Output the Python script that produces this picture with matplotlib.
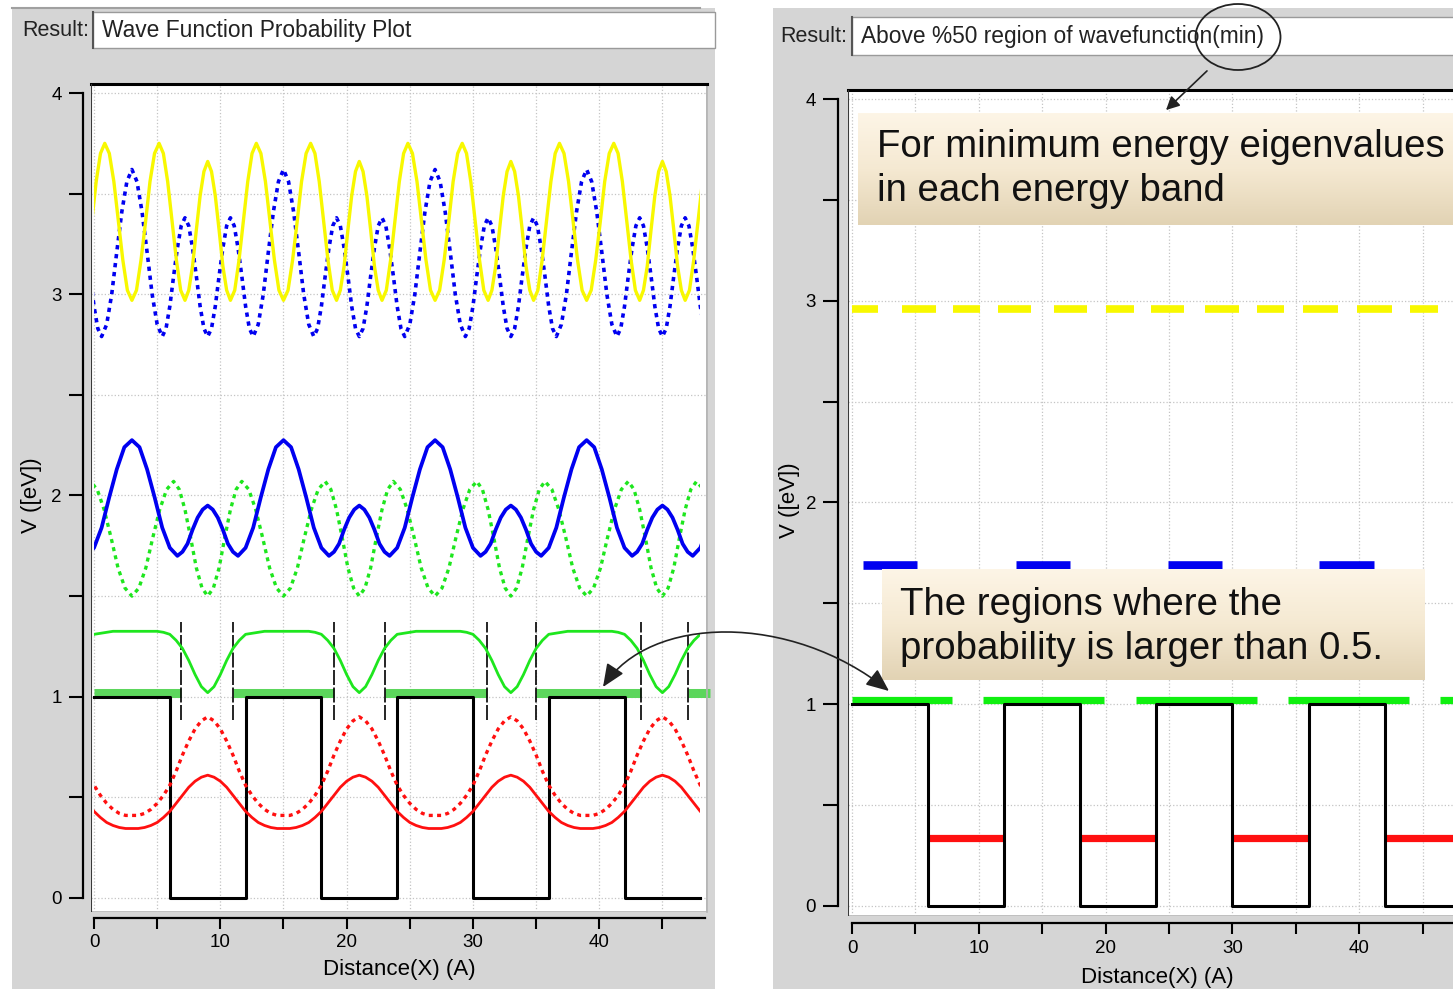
import numpy as np
import matplotlib.pyplot as plt
from matplotlib.colors import LinearSegmentedColormap
from matplotlib.patches import Rectangle, Ellipse, FancyArrowPatch
from matplotlib.path import Path
from matplotlib.ticker import MultipleLocator

plt.rcParams["font.family"] = ["Liberation Sans", "DejaVu Sans"]

# ------------------------------------------------------------
# data: 4 cells of a Kronig-Penney lattice, cell length 12 A
# ------------------------------------------------------------
CELL = 12.0
N_CELLS = 4
X_END = 48.0

POT_X = [0, 6, 12, 18, 24, 30, 36, 42, 48]
POT_V = [1, 0, 1, 0, 1, 0, 1, 0, 0]

# probability curves, one unit cell each (x in A, value plotted in eV)
RED_X = np.arange(0, 12, 0.5)
RED_SOLID = [0.43, 0.40, 0.375, 0.36, 0.35, 0.345, 0.345, 0.345, 0.35, 0.36, 0.375, 0.40,
             0.43, 0.47, 0.51, 0.55, 0.58, 0.60, 0.61, 0.60, 0.58, 0.55, 0.51, 0.47]
RED_DOT = [0.56, 0.51, 0.47, 0.44, 0.42, 0.41, 0.41, 0.41, 0.42, 0.44, 0.47, 0.51,
           0.56, 0.63, 0.71, 0.78, 0.84, 0.88, 0.90, 0.88, 0.84, 0.78, 0.71, 0.63]
GREEN_SOLID = [1.31, 1.315, 1.32, 1.325, 1.325, 1.325, 1.325, 1.325, 1.325, 1.325, 1.325, 1.32,
               1.31, 1.28, 1.24, 1.18, 1.11, 1.05, 1.02, 1.05, 1.11, 1.18, 1.24, 1.28]

GREEN_DOT_X = [-0.3, 0.25, 0.8, 1.35, 1.9, 2.45, 3.0, 3.55, 4.1, 4.65, 5.2, 5.75,
               6.3, 6.75, 7.2, 7.65, 8.1, 8.55, 9.0, 9.45, 9.9, 10.35, 10.8, 11.25]
GREEN_DOT = [2.07, 2.03, 1.93, 1.79, 1.64, 1.54, 1.50, 1.54, 1.64, 1.79, 1.93, 2.03,
             2.07, 2.03, 1.93, 1.79, 1.64, 1.54, 1.50, 1.54, 1.64, 1.79, 1.93, 2.03]

BLUE_SOLID_X = [-0.6, 0.0, 0.6, 1.2, 1.8, 2.4, 3.0, 3.6, 4.2, 4.8, 5.4, 6.0,
                6.6, 7.0, 7.4, 7.8, 8.2, 8.6, 9.0, 9.4, 9.8, 10.2, 10.6, 11.0]
BLUE_SOLID = [1.70, 1.74, 1.84, 1.99, 2.13, 2.24, 2.275, 2.24, 2.13, 1.99, 1.84, 1.74,
              1.70, 1.72, 1.76, 1.83, 1.89, 1.93, 1.95, 1.93, 1.89, 1.83, 1.76, 1.72]

BLUE_DOT_X = [0.6, 1.0, 1.4, 1.8, 2.2, 2.6, 3.0, 3.4, 3.8, 4.2, 4.6, 5.0,
              5.4, 5.7, 6.0, 6.3, 6.6, 6.9, 7.2, 7.5, 7.8, 8.1, 8.4, 8.7,
              9.0, 9.3, 9.6, 9.9, 10.2, 10.5, 10.8, 11.1, 11.4, 11.7, 12.0, 12.3]
BLUE_DOT = [2.79, 2.85, 3.00, 3.21, 3.41, 3.56, 3.62, 3.56, 3.41, 3.21, 3.00, 2.85,
            2.79, 2.83, 2.94, 3.09, 3.23, 3.34, 3.38, 3.34, 3.23, 3.09, 2.94, 2.83,
            2.79, 2.83, 2.94, 3.09, 3.23, 3.34, 3.38, 3.34, 3.23, 3.09, 2.94, 2.83]

YELLOW_X = [-1.2, -0.86, -0.52, -0.18, 0.17, 0.51, 0.85, 1.21, 1.57, 1.93, 2.28, 2.64,
            3.0, 3.36, 3.72, 4.08, 4.43, 4.79, 5.15, 5.49, 5.83, 6.18, 6.52, 6.86,
            7.2, 7.5, 7.8, 8.1, 8.4, 8.7, 9.0, 9.3, 9.6, 9.9, 10.2, 10.5]
YELLOW = [2.97, 3.02, 3.17, 3.36, 3.56, 3.70, 3.75, 3.70, 3.56, 3.36, 3.17, 3.02,
          2.97, 3.02, 3.17, 3.36, 3.56, 3.70, 3.75, 3.70, 3.56, 3.36, 3.17, 3.02,
          2.97, 3.02, 3.14, 3.32, 3.49, 3.61, 3.66, 3.61, 3.49, 3.32, 3.14, 3.02]

# half-maximum cut positions of the green state and its >0.5 regions
CUT_X = [6.9, 11.0, 19.0, 23.0, 31.1, 35.0, 43.3, 47.0]
CUT_LO, CUT_HI = 0.885, 1.37
HALF_GREEN_START = [0.0, 11.0, 23.0, 35.0, 47.0]
HALF_GREEN_END = [6.9, 19.0, 31.1, 43.3, 48.8]
HALF_GREEN_LEVEL = 1.02

# >0.5 regions of the minimum eigenvalue in each band
YELLOW_MIN_E = 2.96
YELLOW_START = [0.0, 3.95, 8.0, 11.5, 15.9, 20.0, 23.6, 27.8, 31.9, 35.6, 39.8, 44.0]
YELLOW_END = [2.05, 6.6, 10.1, 14.1, 18.5, 22.2, 26.2, 30.5, 34.1, 38.3, 42.6, 46.2]
BLUE_MIN_E = 1.69
BLUE_START = [0.85, 12.9, 24.9, 36.85]
BLUE_END = [5.15, 17.15, 29.15, 41.15]
GREEN_MIN_E = 1.02
GREEN_START = [0.0, 10.35, 22.4, 34.4, 46.4]
GREEN_END = [7.85, 19.9, 31.9, 43.9, 48.5]
RED_MIN_E = 0.335
RED_START = [6, 18, 30, 42]
RED_END = [12, 24, 36, 48]

# ------------------------------------------------------------
PANEL_GREY = "#d5d5d5"
GRID = "#c4c4c4"
YELLOW_C = "#f8f800"
BLUE_C = "#0000f0"
GREEN_C = "#1ee61e"
RED_C = "#ff1010"
LIGHT_GREEN = "#5cd65c"

W, H = 1453, 989
fig = plt.figure(figsize=(W / 100, H / 100), dpi=100)
fig.patch.set_facecolor("white")


def fx(px):
    return px / W


def fy(py):
    return 1 - py / H


def fig_rect(x0, y0, x1, y1, **kw):
    r = Rectangle((fx(x0), fy(y1)), (x1 - x0) / W, (y1 - y0) / H,
                  transform=fig.transFigure, **kw)
    fig.add_artist(r)
    return r


def unit_cells(cx, cy):
    xs = np.concatenate([np.asarray(cx, float) + CELL * k for k in range(-1, N_CELLS + 1)])
    ys = np.tile(cy, N_CELLS + 2)
    return xs, ys


def bands(ax, level, starts, ends, **kw):
    ax.hlines([level] * len(starts), starts, ends, capstyle="butt", **kw)


# panel backgrounds and "Result:" headers
fig_rect(12, 8, 715, 989, facecolor=PANEL_GREY, edgecolor="none", zorder=-2)
fig_rect(773, 8, 1460, 989, facecolor=PANEL_GREY, edgecolor="none", zorder=-2)
fig.add_artist(plt.Line2D([fx(12), fx(700)], [fy(8), fy(8)], transform=fig.transFigure,
                          color="#a0a0a0", lw=1.5, zorder=-1))


def header(x_lbl, x0, x1, y0, y1, title):
    fig_rect(x0, y0, x1, y1, facecolor="white", edgecolor="#9a9a9a", lw=1, zorder=1)
    fig.add_artist(plt.Line2D([fx(x0), fx(x0)], [fy(y0), fy(y1)], transform=fig.transFigure,
                              color="#555555", lw=1.5, zorder=1.1))
    yc = fy((y0 + y1) / 2)
    fig.text(fx(x_lbl), yc, "Result:", fontsize=15.5, color="#222222", ha="left", va="center")
    fig.text(fx(x0 + 9), yc, title, fontsize=16.4, color="#222222", ha="left", va="center")


header(22, 93, 715, 12, 48, "Wave Function Probability Plot")
header(780, 852, 1460, 17, 55, "Above %50 region of wavefunction(min)")


def make_axes(left, top, right, bottom, xlim, ylim, y_out, x_out, x_bound, tick_len):
    ax = fig.add_axes([fx(left), fy(bottom), (right - left) / W, (bottom - top) / H])
    ax.set_facecolor("white")
    ax.set_xlim(*xlim)
    ax.set_ylim(*ylim)
    ax.xaxis.set_major_locator(MultipleLocator(10))
    ax.xaxis.set_minor_locator(MultipleLocator(5))
    ax.yaxis.set_major_locator(MultipleLocator(1))
    ax.yaxis.set_minor_locator(MultipleLocator(0.5))
    ax.grid(which="both", color=GRID, linestyle=":", linewidth=0.9)
    ax.set_axisbelow(True)

    ax.spines["left"].set_position(("outward", y_out))
    ax.spines["left"].set_bounds(0, 4)
    ax.spines["bottom"].set_position(("outward", x_out))
    ax.spines["bottom"].set_bounds(0, x_bound)
    for s in ("left", "bottom"):
        ax.spines[s].set_linewidth(1.6)
    ax.spines["top"].set_linewidth(2.2)
    ax.spines["right"].set_color("#b4b4b4")
    ax.spines["right"].set_linewidth(1.2)
    ax.add_patch(Rectangle((0, 0), 1, 1, transform=ax.transAxes, fill=False,
                           edgecolor="#b4b4b4", lw=1.2, zorder=0.5))
    ax.plot([0, 0], [0, 1], transform=ax.transAxes, color="#3a3a3a", lw=1.5, zorder=5)

    ax.tick_params(axis="y", which="both", direction="out", length=tick_len, width=1.5,
                   pad=5, labelsize=13.5)
    ax.tick_params(axis="x", which="both", direction="out", length=8, width=1.5,
                   pad=4, labelsize=13.5)
    return ax


def clipped(line, ax):
    line.set_clip_path(Rectangle((0, -1), X_END, 6, transform=ax.transData))


# ---------------- left panel: probability curves ----------------
axL = make_axes(91, 84, 707, 912, (-0.24, 48.53), (-0.07, 4.045), 6, 4, 48.4, 10)

axL.step(POT_X, POT_V, where="post", color="black", lw=2.2, zorder=3)
bands(axL, HALF_GREEN_LEVEL, HALF_GREEN_START, HALF_GREEN_END, color=LIGHT_GREEN,
      lw=6.5, zorder=2.5, clip_on=False)
axL.vlines(CUT_X, CUT_LO, CUT_HI, color="black", lw=1.2, linestyles=[(0, (9, 1.5))], zorder=4)

dotted = (0, (1.2, 1.3))
curves = [
    (RED_X, RED_SOLID, RED_C, "-", 2.0),
    (RED_X, RED_DOT, RED_C, dotted, 2.4),
    (RED_X, GREEN_SOLID, GREEN_C, "-", 2.0),
    (GREEN_DOT_X, GREEN_DOT, GREEN_C, dotted, 2.4),
    (BLUE_SOLID_X, BLUE_SOLID, BLUE_C, "-", 2.7),
    (BLUE_DOT_X, BLUE_DOT, BLUE_C, dotted, 2.6),
    (YELLOW_X, YELLOW, YELLOW_C, "-", 2.4),
]
for cx, cy, col, ls, lw in curves:
    xs, ys = unit_cells(cx, cy)
    (ln,) = axL.plot(xs, ys, color=col, linestyle=ls, lw=lw, zorder=4)
    clipped(ln, axL)

fig.text(fx(32), fy(495), "V ([eV])", rotation=90, fontsize=16, ha="center", va="center")
fig.text(fx(399), fy(970), "Distance(X) (A)", fontsize=16, ha="center", va="center")

# ---------------- right panel: minimum-energy regions ----------------
axR = make_axes(848, 90, 1467, 916, (-0.32, 48.5), (-0.05, 4.045), 7, 5, 48.5, 11)

axR.step(POT_X, POT_V, where="post", color="black", lw=2.2, zorder=3)
band_sets = [
    (YELLOW_MIN_E, YELLOW_START, YELLOW_END, YELLOW_C, 5.5),
    (BLUE_MIN_E, BLUE_START, BLUE_END, BLUE_C, 6.2),
    (GREEN_MIN_E, GREEN_START, GREEN_END, "#10f010", 5.2),
    (RED_MIN_E, RED_START, RED_END, RED_C, 5.2),
]
for lvl, x0s, x1s, col, lw in band_sets:
    bands(axR, lvl, x0s, x1s, color=col, lw=lw, zorder=2.5)

fig.text(fx(790), fy(500), "V ([eV])", rotation=90, fontsize=16, ha="center", va="center")
fig.text(fx(1157), fy(978), "Distance(X) (A)", fontsize=16, ha="center", va="center")

# ---------------- callouts ----------------
beige = LinearSegmentedColormap.from_list("beige", ["#fdf5e6", "#f5e9d2", "#e2d3b4"])


def callout(x0, y0, x1, y1, tx, ty, text):
    bax = fig.add_axes([fx(x0), fy(y1), (x1 - x0) / W, (y1 - y0) / H], zorder=5)
    bax.imshow(np.linspace(0, 1, 64)[:, None], aspect="auto", cmap=beige,
               extent=(0, 1, 0, 1))
    bax.axis("off")
    fig.text(fx(tx), fy(ty), text, fontsize=27.6, color="#111111", ha="left",
             va="center", linespacing=1.26, zorder=6)


callout(858, 113, 1470, 225, 877, 169, "For minimum energy eigenvalues\nin each energy band")
callout(882, 569, 1425, 680, 900, 627, "The regions where the\nprobability is larger than 0.5.")

fig.add_artist(Ellipse((fx(1238), fy(37)), 85 / W, 66 / H, transform=fig.transFigure,
                       fill=False, edgecolor="#222222", lw=1.3, zorder=7))
fig.add_artist(FancyArrowPatch((fx(1209), fy(69)), (fx(1164), fy(112)),
                               transform=fig.transFigure, arrowstyle="-|>",
                               mutation_scale=20, color="#222222", lw=1.2, zorder=7))

link = Path([(fx(603), fy(687)), (fx(650), fy(615)), (fx(790), fy(612)), (fx(889), fy(691))],
            [Path.MOVETO, Path.CURVE4, Path.CURVE4, Path.CURVE4])
fig.add_artist(FancyArrowPatch(path=link, transform=fig.transFigure,
                               arrowstyle="<|-|>,head_length=0.7,head_width=0.3",
                               mutation_scale=20, color="#222222", lw=1.2, zorder=7))

fig.savefig("out.png", dpi=100)
